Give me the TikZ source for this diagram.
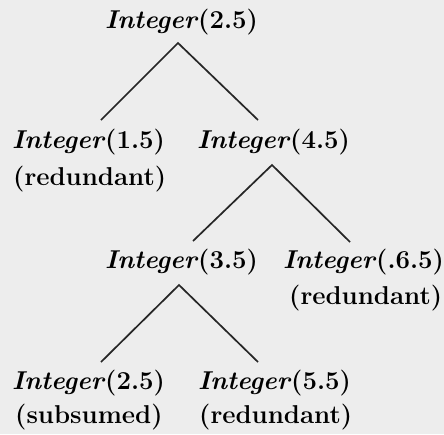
\documentclass[tikz,border=0pt]{standalone}
\usepackage{fontspec}
\begin{document}
\begin{tikzpicture}[x=1pt,y=-1pt,
  lbl/.style={anchor=west,inner sep=0pt,font=\fontsize{25.8}{30}\selectfont\bfseries},
  edge/.style={line width=1.7pt,draw=black!85}]
\newcommand\Intg[1]{\textit{Integer}(#1)}
\fill[black!7] (0,0) rectangle (444,434);
\useasboundingbox (0,0) rectangle (444,434);
% labels
\node[lbl] (r)  at (105,22)  {\Intg{2.5}};
\node[lbl] (a)  at (12,142)  {\Intg{1.5}};
\node[lbl] (ar) at (13,179)  {(redundant)};
\node[lbl] (b)  at (197,142) {\Intg{4.5}};
\node[lbl] (c)  at (105,262) {\Intg{3.5}};
\node[lbl] (d)  at (283,262) {\Intg{.6.5}};
\node[lbl] (dr) at (289,298) {(redundant)};
\node[lbl] (e)  at (12,383)  {\Intg{2.5}};
\node[lbl] (es) at (15,417)  {(subsumed)};
\node[lbl] (f)  at (198,383) {\Intg{5.5}};
\node[lbl] (fr) at (199,417) {(redundant)};
% connector points
\coordinate (rA) at (178,43);
\coordinate (aT) at (101,120);
\coordinate (bT) at (258,120);
\coordinate (bA) at (272,165);
\coordinate (cT) at (193,241);
\coordinate (dT) at (350,242);
\coordinate (cA) at (179,285);
\coordinate (eT) at (101,362);
\coordinate (fT) at (258,362);
\draw[edge] (aT) -- (rA) -- (bT);
\draw[edge] (cT) -- (bA) -- (dT);
\draw[edge] (eT) -- (cA) -- (fT);
\end{tikzpicture}
\end{document}
